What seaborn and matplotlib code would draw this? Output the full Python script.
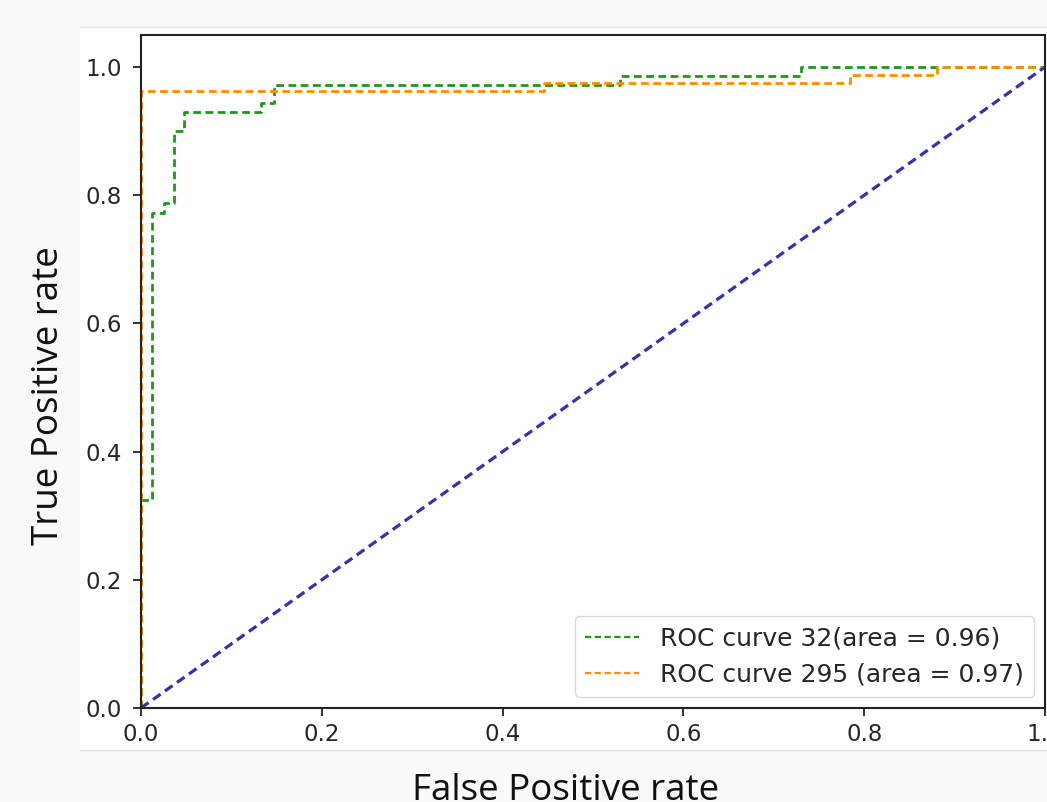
import matplotlib
matplotlib.use("Agg")
import matplotlib.pyplot as plt
import seaborn as sns
import pandas as pd
from matplotlib.patches import Rectangle
from matplotlib.lines import Line2D

# ---- data (corner points of the ROC curves) ----
fpr_32 = [0.0, 0.0, 0.012, 0.012, 0.025, 0.025, 0.036, 0.036, 0.048, 0.048,
          0.133, 0.133, 0.147, 0.147, 0.530, 0.530, 0.730, 0.730, 1.0]
tpr_32 = [0.0, 0.325, 0.325, 0.773, 0.773, 0.788, 0.788, 0.900, 0.900, 0.930,
          0.930, 0.944, 0.944, 0.972, 0.972, 0.986, 0.986, 1.0, 1.0]
fpr_295 = [0.0, 0.0, 0.446, 0.446, 0.784, 0.784, 0.880, 0.880, 1.0]
tpr_295 = [0.0, 0.963, 0.963, 0.975, 0.975, 0.987, 0.987, 1.0, 1.0]
diag_x = [0.0, 1.0]
diag_y = [0.0, 1.0]
label_32 = "ROC curve 32(area = 0.96)"
label_295 = "ROC curve 295 (area = 0.97)"
x_ticks = [0.0, 0.2, 0.4, 0.6, 0.8, 1.0]
y_ticks = [0.0, 0.2, 0.4, 0.6, 0.8, 1.0]

sns.set_style("ticks")
plt.rcParams['font.family'] = ['DejaVu Sans']

W, H = 1047, 802
fig = plt.figure(figsize=(W / 100, H / 100), dpi=100, facecolor="#f8f9fa")

# white panel of the embedded chart
fig.patches.append(Rectangle((80 / W, 1 - 750 / H), (W - 80) / W, (750 - 27) / H,
                             transform=fig.transFigure, facecolor="white",
                             edgecolor="none", zorder=-5))
for yy in (27, 750):
    fig.lines.append(Line2D([80 / W, 1], [1 - yy / H, 1 - yy / H],
                            transform=fig.transFigure, color="#e3e3e3", lw=1.0,
                            zorder=-4))

ax = fig.add_axes([141 / W, 1 - 708 / H, 904 / W, 673 / H])
ax.set_zorder(2)
ax.set_facecolor("white")

df32 = pd.DataFrame({"fpr": fpr_32, "tpr": tpr_32})
df295 = pd.DataFrame({"fpr": fpr_295, "tpr": tpr_295})
dfd = pd.DataFrame({"x": diag_x, "y": diag_y})

lw = 2.0
ls = (0, (2.8, 1.6))
sns.lineplot(data=df32, x="fpr", y="tpr", sort=False, estimator=None, ax=ax,
             color="#1a9a1a", lw=lw, linestyle=ls, label=label_32)
sns.lineplot(data=df295, x="fpr", y="tpr", sort=False, estimator=None, ax=ax,
             color="darkorange", lw=lw, linestyle=ls, label=label_295)
sns.lineplot(data=dfd, x="x", y="y", sort=False, estimator=None, ax=ax,
             color="#3333aa", lw=2.3, linestyle=(0, (2.9, 1.7)), legend=False)

ax.set_xlim(0.0, 1.0)
ax.set_ylim(0.0, 1.05)
ax.set_xticks(x_ticks)
ax.set_yticks(y_ticks)
ax.set_xticklabels([f"{v:.1f}" for v in x_ticks])
ax.set_yticklabels([f"{v:.1f}" for v in y_ticks])
ax.tick_params(axis="both", labelsize=16.5, length=5.8, width=1.3,
               color="#222222", labelcolor="#262626")
ax.tick_params(axis="x", pad=5.0)
ax.tick_params(axis="y", pad=8.0)
for s in ax.spines.values():
    s.set_visible(True)
    s.set_linewidth(1.5)
    s.set_color("#222222")
ax.set_xlabel("")
ax.set_ylabel("")

leg = ax.legend(loc="lower right", fontsize=18, handlelength=2.15,
                handletextpad=0.85, labelspacing=0.5, framealpha=0.8,
                edgecolor="#d0d0d0", fancybox=True, borderaxespad=0.45)
for h in leg.get_lines():
    h.set_linewidth(1.6)
for t in leg.get_texts():
    t.set_color("#262626")

fig.text(566 / W, (H - 800) / H, "False Positive rate", family=["Open Sans", "DejaVu Sans"],
         fontsize=26.5, ha="center", va="baseline", color="#111111")
fig.text(58 / W, 1 - 396 / H, "True Positive rate", family=["Open Sans", "DejaVu Sans"],
         fontsize=26.5, ha="center", va="baseline", rotation=90,
         rotation_mode="anchor", color="#111111")

fig.savefig("out.png", dpi=100, facecolor=fig.get_facecolor())
